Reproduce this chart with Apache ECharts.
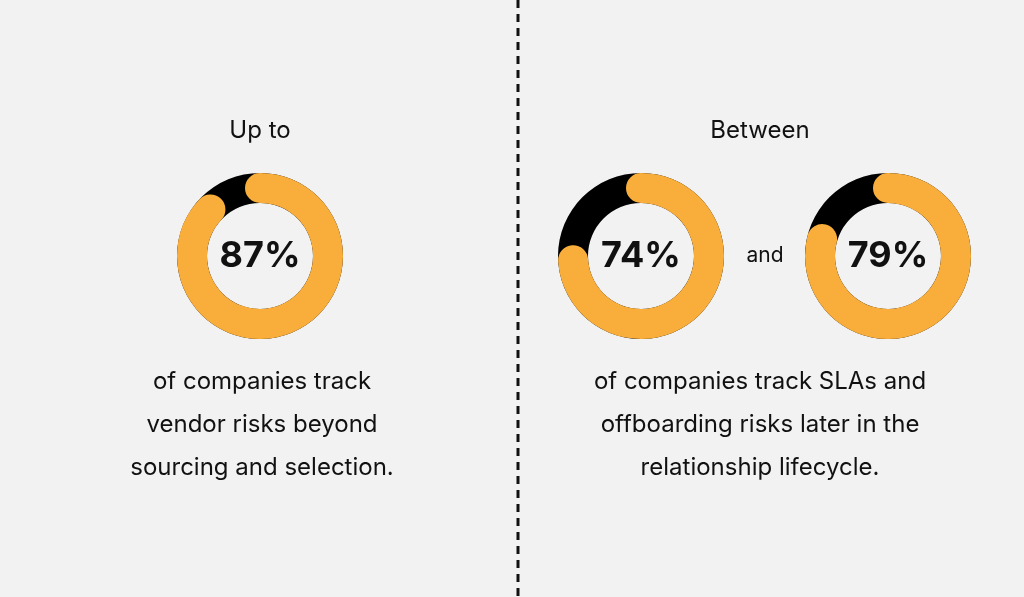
<!DOCTYPE html><html><head><meta charset="utf-8"><script src="https://cdn.jsdelivr.net/npm/echarts@6/dist/echarts.min.js"></script>
<style>html,body{margin:0;background:#f2f2f2}#c{width:1024px;height:597px}</style></head><body><div id="c"></div><script>
const labels=['87%','74%','79%'];
const values=[87,74,79];
const centers=[[260,256],[641,256],[888,256]];
const ff='Inter, "Noto Sans", sans-serif';
const chart=echarts.init(document.getElementById('c'));
const series=values.map((v,i)=>({type:'gauge',center:centers[i],radius:83,startAngle:90,endAngle:-270,min:0,max:100,
 pointer:{show:false},axisTick:{show:false},splitLine:{show:false},axisLabel:{show:false},
 axisLine:{lineStyle:{width:30,color:[[1,'#000']]}},
 progress:{show:true,roundCap:true,width:30,itemStyle:{color:'#f9ae3b'}},
 title:{show:false},
 detail:{offsetCenter:[0,0],formatter:()=>labels[i],fontSize:36,fontWeight:'bold',color:'#111',fontFamily:ff},
 data:[{value:v}]}));
const t=(x,y,s,size)=>({type:'text',left:x,top:y,style:{text:s,x:0,y:0,textAlign:'center',fontSize:size||24,fill:'#111',fontFamily:ff,lineHeight:48}});
chart.setOption({backgroundColor:'#f2f2f2',series,
 graphic:[
  {type:'line',shape:{x1:518,y1:0,x2:518,y2:597},style:{stroke:'#111',lineWidth:3,lineDash:[8,6]}},
  {type:'text',x:260,y:131,style:{text:'Up to',align:'center',verticalAlign:'middle',fontSize:24,fill:'#111',fontFamily:ff}},
  {type:'text',x:760,y:131,style:{text:'Between',align:'center',verticalAlign:'middle',fontSize:24,fill:'#111',fontFamily:ff}},
  {type:'text',x:765,y:256,style:{text:'and',align:'center',verticalAlign:'middle',fontSize:21,fill:'#111',fontFamily:ff}},
  {type:'text',x:262,y:425,style:{text:'of companies track\nvendor risks beyond\nsourcing and selection.',align:'center',verticalAlign:'middle',fontSize:24,lineHeight:43,fill:'#111',fontFamily:ff}},
  {type:'text',x:760,y:425,style:{text:'of companies track SLAs and\noffboarding risks later in the\nrelationship lifecycle.',align:'center',verticalAlign:'middle',fontSize:24,lineHeight:43,fill:'#111',fontFamily:ff}}
 ]});
</script></body></html>
